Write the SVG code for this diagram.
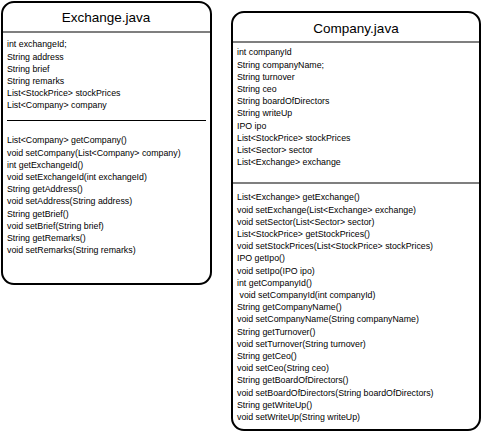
<svg xmlns="http://www.w3.org/2000/svg" width="483" height="432" viewBox="0 0 483 432">
<style>
.box{fill:#fff;stroke:#000;stroke-width:2}
.ln{stroke:#000;stroke-width:1.2;fill:none}
.t{font-family:"Liberation Sans",Arial,sans-serif;font-size:8.8px;fill:#000}
.h{font-family:"Liberation Sans",Arial,sans-serif;font-size:13.5px;fill:#000;text-anchor:middle}
</style>
<rect width="483" height="432" fill="#fff"/>
<g id="exchange">
<rect class="box" x="2" y="2" width="209" height="282" rx="12"/>
<line class="ln" x1="2" y1="32" x2="211" y2="32"/>
<text class="h" x="106" y="21.5">Exchange.java</text>
<line class="ln" x1="7" y1="120.5" x2="206" y2="120.5"/>
<g class="t">
<text x="7" y="47.3">int exchangeId;</text>
<text x="7" y="59.5">String address</text>
<text x="7" y="71.7">String brief</text>
<text x="7" y="83.9">String remarks</text>
<text x="7" y="96.1">List&lt;StockPrice&gt; stockPrices</text>
<text x="7" y="108.3">List&lt;Company&gt; company</text>
<text x="7" y="143.3">List&lt;Company&gt; getCompany()</text>
<text x="7" y="155.5">void setCompany(List&lt;Company&gt; company)</text>
<text x="7" y="167.7">int getExchangeId()</text>
<text x="7" y="179.9">void setExchangeId(int exchangeId)</text>
<text x="7" y="192.1">String getAddress()</text>
<text x="7" y="204.3">void setAddress(String address)</text>
<text x="7" y="216.5">String getBrief()</text>
<text x="7" y="228.7">void setBrief(String brief)</text>
<text x="7" y="240.9">String getRemarks()</text>
<text x="7" y="253.1">void setRemarks(String remarks)</text>
</g>
</g>
<g id="company">
<rect class="box" x="232" y="12" width="248" height="418" rx="12"/>
<line class="ln" x1="232" y1="42" x2="480" y2="42"/>
<text class="h" x="356" y="32.5">Company.java</text>
<line class="ln" x1="232" y1="183" x2="480" y2="183"/>
<g class="t">
<text x="237" y="55.3">int companyId</text>
<text x="237" y="67.5">String companyName;</text>
<text x="237" y="79.7">String turnover</text>
<text x="237" y="91.9">String ceo</text>
<text x="237" y="104.1">String boardOfDirectors</text>
<text x="237" y="116.3">String writeUp</text>
<text x="237" y="128.5">IPO ipo</text>
<text x="237" y="140.7">List&lt;StockPrice&gt; stockPrices</text>
<text x="237" y="152.9">List&lt;Sector&gt; sector</text>
<text x="237" y="165.1">List&lt;Exchange&gt; exchange</text>
<text x="237" y="200.3">List&lt;Exchange&gt; getExchange()</text>
<text x="237" y="212.5">void setExchange(List&lt;Exchange&gt; exchange)</text>
<text x="237" y="224.7">void setSector(List&lt;Sector&gt; sector)</text>
<text x="237" y="236.9">List&lt;StockPrice&gt; getStockPrices()</text>
<text x="237" y="249.1">void setStockPrices(List&lt;StockPrice&gt; stockPrices)</text>
<text x="237" y="261.3">IPO getIpo()</text>
<text x="237" y="273.5">void setIpo(IPO ipo)</text>
<text x="237" y="285.7">int getCompanyId()</text>
<text x="239.5" y="297.9">void setCompanyId(int companyId)</text>
<text x="237" y="310.1">String getCompanyName()</text>
<text x="237" y="322.3">void setCompanyName(String companyName)</text>
<text x="237" y="334.5">String getTurnover()</text>
<text x="237" y="346.7">void setTurnover(String turnover)</text>
<text x="237" y="358.9">String getCeo()</text>
<text x="237" y="371.1">void setCeo(String ceo)</text>
<text x="237" y="383.3">String getBoardOfDirectors()</text>
<text x="237" y="395.5">void setBoardOfDirectors(String boardOfDirectors)</text>
<text x="237" y="407.7">String getWriteUp()</text>
<text x="237" y="419.9">void setWriteUp(String writeUp)</text>
</g>
</g>
<g id="connectors"></g>
</svg>
